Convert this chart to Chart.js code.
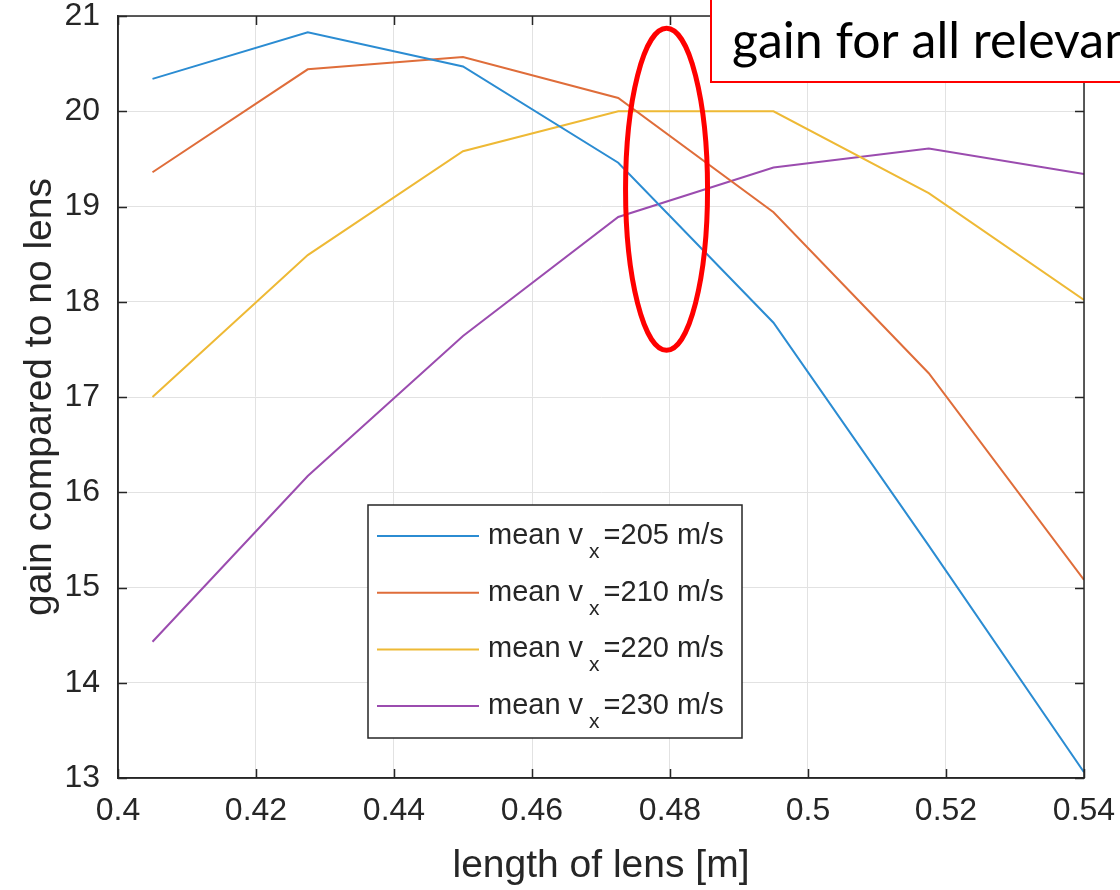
<!DOCTYPE html>
<html>
<head>
<meta charset="utf-8">
<script src="https://cdn.jsdelivr.net/npm/chart.js@4"></script>
<style>
  html, body { margin: 0; padding: 0; background: #fff; }
</style>
</head>
<body>
<canvas id="myChart" width="1120" height="890"></canvas>
<script>
// lens length samples (x) and gain per mean v_x (y)
const lensLength = [0.405, 0.4275, 0.45, 0.4725, 0.495, 0.5175, 0.54];
const speeds = [205, 210, 220, 230];
const gain205 = [20.34, 20.83, 20.47, 19.46, 17.78, 15.44, 13.06];
const gain210 = [19.36, 20.44, 20.57, 20.14, 18.94, 17.25, 15.08];
const gain220 = [17.00, 18.49, 19.58, 20.00, 20.00, 19.14, 18.02];
const gain230 = [14.43, 16.17, 17.64, 18.89, 19.41, 19.61, 19.34];
const lineColors = ['#2b8cd2', '#df6d3a', '#eeb935', '#9b4caf'];

const xTicks = [0.4, 0.42, 0.44, 0.46, 0.48, 0.5, 0.52, 0.54];
const xTickLabels = ['0.4', '0.42', '0.44', '0.46', '0.48', '0.5', '0.52', '0.54'];
const yTicks = [13, 14, 15, 16, 17, 18, 19, 20, 21];
const yTickLabels = ['13', '14', '15', '16', '17', '18', '19', '20', '21'];

const noteText = 'gain for all relevant';

const axisColor = '#262626';
const gridColor = '#e2e2e2';
const sans = '"Liberation Sans", Arial, Helvetica, sans-serif';

const allGains = [gain205, gain210, gain220, gain230];

const overlay = {
  id: 'overlay',
  afterDraw(chart) {
    const {ctx, chartArea: a, scales: {x, y}} = chart;
    ctx.save();

    // box round the axes + inner tick marks (matlab style)
    ctx.strokeStyle = axisColor;
    ctx.lineWidth = 1.5;
    ctx.strokeRect(a.left, a.top, a.right - a.left, a.bottom - a.top);
    ctx.beginPath();
    xTicks.forEach(v => {
      const px = Math.round(x.getPixelForValue(v)) + 0.5;
      ctx.moveTo(px, a.bottom); ctx.lineTo(px, a.bottom - 9);
      ctx.moveTo(px, a.top); ctx.lineTo(px, a.top + 9);
    });
    yTicks.forEach(v => {
      const py = Math.round(y.getPixelForValue(v)) + 0.5;
      ctx.moveTo(a.left, py); ctx.lineTo(a.left + 9, py);
      ctx.moveTo(a.right, py); ctx.lineTo(a.right - 9, py);
    });
    ctx.stroke();

    // legend box inside the plot
    const lx = a.left + 250, ly = a.top + 489, lw = 374, lh = 233;
    ctx.fillStyle = '#fff';
    ctx.fillRect(lx, ly, lw, lh);
    ctx.lineWidth = 1.5;
    ctx.strokeStyle = axisColor;
    ctx.strokeRect(lx, ly, lw, lh);
    chart.data.datasets.forEach((ds, i) => {
      const cy = ly + 31 + i * 56.7;
      ctx.strokeStyle = ds.borderColor;
      ctx.lineWidth = 2;
      ctx.beginPath();
      ctx.moveTo(lx + 9, cy); ctx.lineTo(lx + 111, cy);
      ctx.stroke();
      const [pre, rest] = ds.label.split('_');
      const sub = rest.charAt(0), post = rest.slice(1);
      ctx.fillStyle = axisColor;
      ctx.textBaseline = 'alphabetic';
      ctx.font = '29px ' + sans;
      let tx = lx + 120;
      ctx.fillText(pre, tx, cy + 8);
      tx += ctx.measureText(pre).width + 6;
      ctx.font = '21px ' + sans;
      ctx.fillText(sub, tx, cy + 22);
      tx += ctx.measureText(sub).width + 4;
      ctx.font = '29px ' + sans;
      ctx.fillText(post, tx, cy + 8);
    });

    // red ellipse round the crossing
    ctx.strokeStyle = '#ff0000';
    ctx.lineWidth = 5;
    ctx.beginPath();
    ctx.ellipse(x.getPixelForValue(0.4795), y.getPixelForValue(19.18), 41, 161, 0, 0, Math.PI * 2);
    ctx.stroke();

    // callout box, cut off by the top/right edge
    ctx.fillStyle = '#fff';
    ctx.fillRect(711, -10, 430, 92);
    ctx.strokeStyle = '#ff0000';
    ctx.lineWidth = 2;
    ctx.strokeRect(711, -10, 430, 92);
    ctx.fillStyle = '#000';
    ctx.font = '50px Lato, "Open Sans", sans-serif';
    ctx.fillText(noteText, 732, 58);

    ctx.restore();
  }
};

const ctx = document.getElementById('myChart');
new Chart(ctx, {
  type: 'line',
  data: {
    datasets: allGains.map((g, i) => ({
      label: 'mean v_x=' + speeds[i] + ' m/s',
      data: lensLength.map((l, j) => ({x: l, y: g[j]})),
      borderColor: lineColors[i],
      borderWidth: 2,
      pointRadius: 0,
      tension: 0,
      fill: false
    }))
  },
  options: {
    responsive: false,
    animation: false,
    layout: { padding: { top: 16, right: 36, left: 0, bottom: 0 } },
    plugins: { legend: { display: false }, tooltip: { enabled: false } },
    scales: {
      x: {
        type: 'linear',
        min: 0.4,
        max: 0.54,
        afterBuildTicks: s => { s.ticks = xTicks.map(v => ({value: v})); },
        afterFit: s => { s.height = 112; s.paddingLeft = 0; s.paddingRight = 0; },
        ticks: {
          autoSkip: false,
          maxRotation: 0,
          padding: 14,
          color: axisColor,
          font: { family: sans, size: 32 },
          callback: (v, i) => xTickLabels[i]
        },
        grid: { color: gridColor, drawTicks: false },
        border: { display: true, color: axisColor, width: 1.5 },
        title: {
          display: true,
          text: 'length of lens [m]',
          color: axisColor,
          font: { family: sans, size: 39 },
          padding: { top: 0, bottom: 0 }
        }
      },
      y: {
        min: 13,
        max: 21,
        afterBuildTicks: s => { s.ticks = yTicks.map(v => ({value: v})); },
        afterFit: s => { s.width = 118; s.paddingTop = 0; s.paddingBottom = 0; },
        ticks: {
          autoSkip: false,
          padding: 18,
          color: axisColor,
          font: { family: sans, size: 32 },
          callback: (v, i) => yTickLabels[i]
        },
        grid: { color: gridColor, drawTicks: false },
        border: { display: true, color: axisColor, width: 1.5 },
        title: {
          display: true,
          text: 'gain compared to no lens',
          color: axisColor,
          font: { family: sans, size: 39 },
          padding: { top: 17, bottom: 0 }
        }
      }
    }
  },
  plugins: [overlay]
});
</script>
</body>
</html>
